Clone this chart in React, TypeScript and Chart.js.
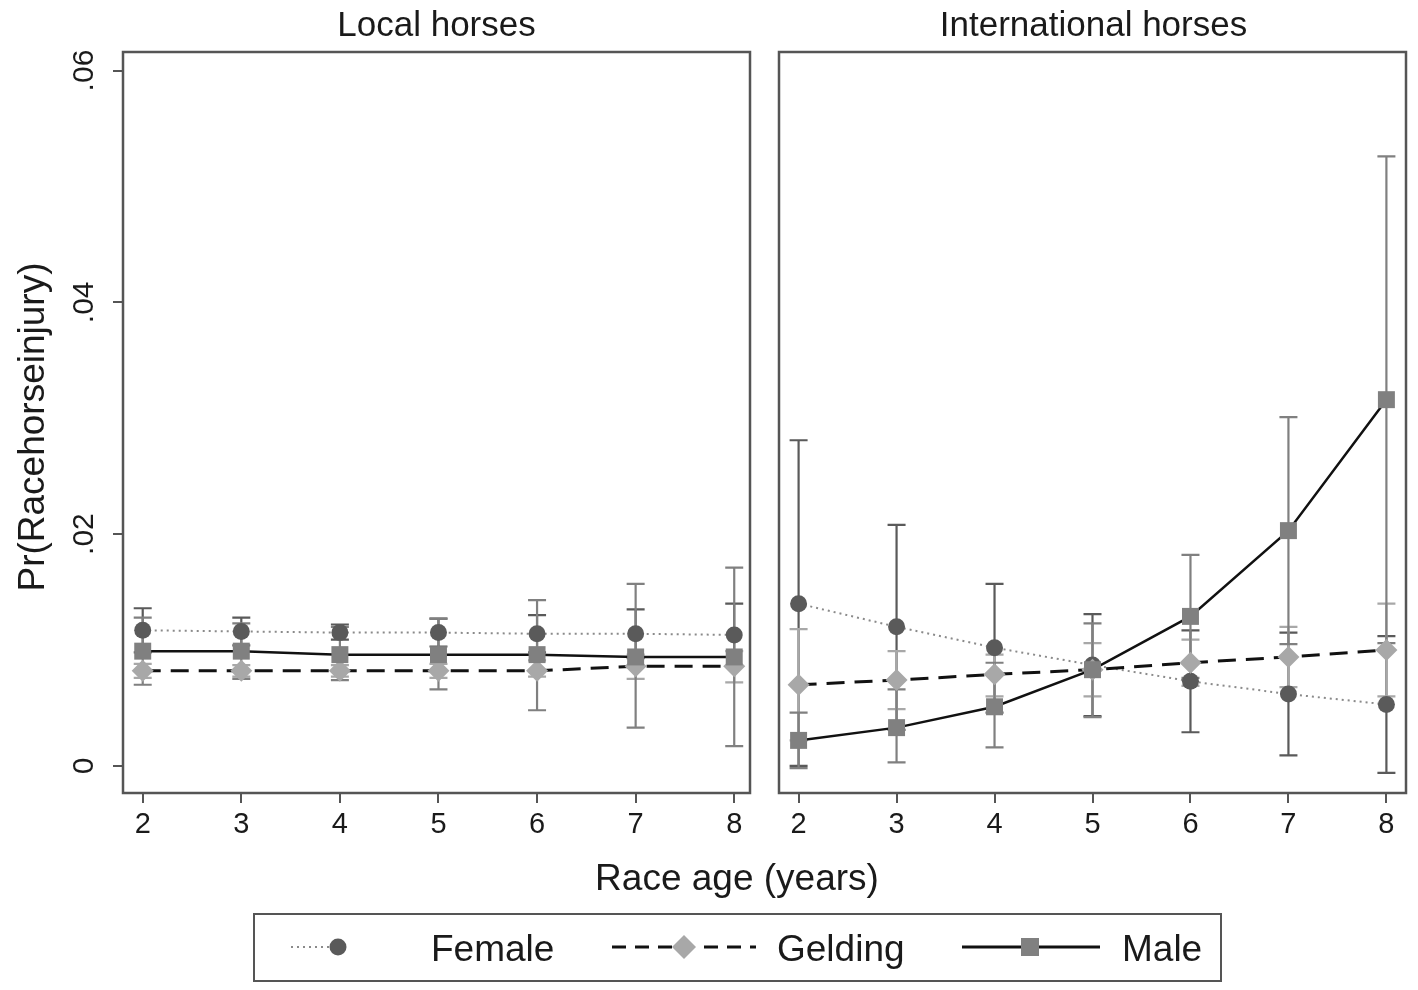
import React, { useEffect, useRef } from "react";
import { Chart, registerables } from "chart.js";
Chart.register(...registerables);

const ages = [2, 3, 4, 5, 6, 7, 8];
const yTickValues = [0, 0.02, 0.04, 0.06];
const yTickLabels = ["0", ".02", ".04", ".06"];

// Local horses
const localFemale = [0.0117, 0.0116, 0.0115, 0.0115, 0.0114, 0.0114, 0.0113];
const localFemaleLo = [0.0098, 0.0104, 0.0109, 0.0103, 0.0098, 0.0093, 0.0086];
const localFemaleHi = [0.0136, 0.0128, 0.0122, 0.0127, 0.013, 0.0135, 0.014];
const localGelding = [0.0082, 0.0082, 0.0082, 0.0082, 0.0082, 0.0086, 0.0086];
const localGeldingLo = [0.0076, 0.0077, 0.0077, 0.0076, 0.0077, 0.0075, 0.0072];
const localGeldingHi = [0.0088, 0.0087, 0.0087, 0.0088, 0.0091, 0.0096, 0.0099];
const localMale = [0.0099, 0.0099, 0.0096, 0.0096, 0.0096, 0.0094, 0.0094];
const localMaleLo = [0.007, 0.0075, 0.0074, 0.0066, 0.0048, 0.0033, 0.0017];
const localMaleHi = [0.0128, 0.0123, 0.012, 0.0127, 0.0143, 0.0157, 0.0171];

// International horses
const intlFemale = [0.014, 0.012, 0.0102, 0.0087, 0.0073, 0.0062, 0.0053];
const intlFemaleLo = [0.0, 0.0031, 0.0046, 0.0043, 0.0029, 0.0009, -0.0006];
const intlFemaleHi = [0.0281, 0.0208, 0.0157, 0.0131, 0.0117, 0.0115, 0.0112];
const intlGelding = [0.007, 0.0074, 0.0079, 0.0083, 0.0089, 0.0094, 0.01];
const intlGeldingLo = [0.0022, 0.0049, 0.006, 0.006, 0.0069, 0.0068, 0.006];
const intlGeldingHi = [0.0118, 0.0099, 0.0096, 0.0106, 0.0109, 0.012, 0.014];
const intlMale = [0.0022, 0.0033, 0.0051, 0.0083, 0.0129, 0.0203, 0.0316];
const intlMaleLo = [-0.0002, 0.0003, 0.0016, 0.0042, 0.0076, 0.0105, 0.0106];
const intlMaleHi = [0.0046, 0.0066, 0.0089, 0.0123, 0.0182, 0.0301, 0.0526];

const FONT = "'Liberation Sans', Arial, Helvetica, sans-serif";
const FEMALE_C = "#5a5a5a";
const GELDING_C = "#a8a8a8";
const MALE_C = "#808080";
const AXIS_C = "#555555";
const TEXT_C = "#1a1a1a";

function makeDatasets(
  f: number[], fLo: number[], fHi: number[],
  g: number[], gLo: number[], gHi: number[],
  m: number[], mLo: number[], mHi: number[]
) {
  return [
    {
      label: "Female",
      data: ages.map((x, i) => ({ x, y: f[i] })),
      lo: fLo, hi: fHi, ciColor: FEMALE_C,
      borderColor: "#8a8a8a", borderWidth: 2, borderDash: [2, 4],
      pointStyle: "circle", pointRadius: 8.5, pointBackgroundColor: FEMALE_C,
      pointBorderWidth: 0, pointBorderColor: FEMALE_C, fill: false, tension: 0, order: 3,
    },
    {
      label: "Gelding",
      data: ages.map((x, i) => ({ x, y: g[i] })),
      lo: gLo, hi: gHi, ciColor: GELDING_C,
      borderColor: "#111111", borderWidth: 3, borderDash: [18, 10],
      pointStyle: "rectRot", pointRadius: 11, pointBackgroundColor: GELDING_C,
      pointBorderWidth: 0, pointBorderColor: GELDING_C, fill: false, tension: 0, order: 2,
    },
    {
      label: "Male",
      data: ages.map((x, i) => ({ x, y: m[i] })),
      lo: mLo, hi: mHi, ciColor: MALE_C,
      borderColor: "#111111", borderWidth: 2.5, borderDash: [],
      pointStyle: "rect", pointRadius: 12, pointBackgroundColor: MALE_C,
      pointBorderWidth: 0, pointBorderColor: MALE_C, fill: false, tension: 0, order: 1,
    },
  ];
}

const errorBars = {
  id: "errorBars",
  beforeDatasetsDraw(chart: any) {
    const { ctx } = chart;
    const xs = chart.scales.x;
    const ys = chart.scales.y;
    ctx.save();
    chart.data.datasets.forEach((ds: any) => {
      ctx.strokeStyle = ds.ciColor;
      ctx.lineWidth = 2.2;
      ctx.setLineDash([]);
      ages.forEach((a, i) => {
        const px = xs.getPixelForValue(a);
        const y1 = ys.getPixelForValue(ds.lo[i]);
        const y2 = ys.getPixelForValue(ds.hi[i]);
        ctx.beginPath();
        ctx.moveTo(px, y1);
        ctx.lineTo(px, y2);
        ctx.moveTo(px - 9, y1);
        ctx.lineTo(px + 9, y1);
        ctx.moveTo(px - 9, y2);
        ctx.lineTo(px + 9, y2);
        ctx.stroke();
      });
    });
    ctx.restore();
  },
};

const boxPlugin = {
  id: "boxPlugin",
  afterDraw(chart: any) {
    const { ctx, chartArea: a } = chart;
    ctx.save();
    ctx.strokeStyle = AXIS_C;
    ctx.lineWidth = 2.5;
    ctx.setLineDash([]);
    ctx.strokeRect(a.left, a.top, a.right - a.left, a.bottom - a.top);
    ctx.restore();
  },
};

const yLabelPlugin = {
  id: "yLabelPlugin",
  afterDraw(chart: any) {
    const ys = chart.scales.y;
    const ctx = chart.ctx;
    ctx.save();
    ctx.fillStyle = TEXT_C;
    ctx.font = `30px ${FONT}`;
    ctx.textAlign = "center";
    ctx.textBaseline = "middle";
    ys.ticks.forEach((t: any) => {
      const py = ys.getPixelForValue(t.value);
      ctx.save();
      ctx.translate(85, py);
      ctx.rotate(-Math.PI / 2);
      ctx.fillText(String(t.label), 0, 0);
      ctx.restore();
    });
    ctx.restore();
  },
};

function makeConfig(datasets: any[], showY: boolean, xMax: number): any {
  return {
    type: "line",
    data: { datasets },
    plugins: showY ? [errorBars, boxPlugin, yLabelPlugin] : [errorBars, boxPlugin],
    options: {
      responsive: false,
      animation: false,
      events: [],
      layout: { padding: showY ? { top: 52, right: 12, left: 0, bottom: 0 } : { top: 52, right: 10, left: 9, bottom: 0 } },
      plugins: { legend: { display: false }, tooltip: { enabled: false }, title: { display: false } },
      scales: {
        x: {
          type: "linear",
          min: 1.8,
          max: xMax,
          afterBuildTicks: (s: any) => {
            s.ticks = ages.map((v) => ({ value: v }));
          },
          afterFit: (s: any) => {
            s.height = 67;
            s.paddingLeft = 0;
            s.paddingRight = 0;
          },
          ticks: {
            color: TEXT_C,
            font: { size: 29, family: FONT },
            padding: 5,
            maxRotation: 0,
            callback: (v: any) => String(v),
          },
          grid: { display: true, drawOnChartArea: false, drawTicks: true, tickLength: 10, color: AXIS_C, lineWidth: 2 },
          border: { display: false },
        },
        y: {
          type: "linear",
          display: showY,
          min: -0.00234,
          max: 0.0616,
          afterBuildTicks: (s: any) => {
            s.ticks = yTickValues.map((v) => ({ value: v }));
          },
          afterFit: (s: any) => {
            s.width = showY ? 123 : 0;
          },
          ticks: {
            color: "rgba(0,0,0,0)",
            font: { size: 28, family: FONT },
            callback: (v: any) => {
              const i = yTickValues.indexOf(v);
              return i >= 0 ? yTickLabels[i] : "";
            },
          },
          grid: { display: true, drawOnChartArea: false, drawTicks: true, tickLength: 10, color: AXIS_C, lineWidth: 2 },
          border: { display: false },
        },
      },
    },
  };
}

function Panel(props: { left: number; width: number; showY: boolean; xMax: number; datasets: any[] }) {
  const ref = useRef<HTMLCanvasElement | null>(null);
  useEffect(() => {
    if (!ref.current) return;
    const chart = new Chart(ref.current, makeConfig(props.datasets, props.showY, props.xMax));
    return () => chart.destroy();
  }, []);
  return (
    <canvas
      ref={ref}
      width={props.width}
      height={860}
      style={{ position: "absolute", left: props.left, top: 0, width: props.width, height: 860 }}
    />
  );
}

export default function App() {
  const localDs = makeDatasets(
    localFemale, localFemaleLo, localFemaleHi,
    localGelding, localGeldingLo, localGeldingHi,
    localMale, localMaleLo, localMaleHi
  );
  const intlDs = makeDatasets(
    intlFemale, intlFemaleLo, intlFemaleHi,
    intlGelding, intlGeldingLo, intlGeldingHi,
    intlMale, intlMaleLo, intlMaleHi
  );
  return (
    <div style={{ position: "fixed", left: 0, top: 0, width: 1418, height: 990, background: "#ffffff", overflow: "hidden" }}>
      <Panel left={0} width={762} showY={true} xMax={8.16} datasets={localDs} />
      <Panel left={767} width={651} showY={false} xMax={8.2} datasets={intlDs} />
      <svg width={1418} height={990} style={{ position: "absolute", left: 0, top: 0, pointerEvents: "none" }}>
        <g fontFamily={FONT} fill={TEXT_C}>
          <text x={436.5} y={36} fontSize={35} textAnchor="middle">Local horses</text>
          <text x={1093.5} y={36} fontSize={35} textAnchor="middle">International horses</text>
          <text x={737} y={890} fontSize={37} textAnchor="middle">Race age (years)</text>
          <text x={0} y={0} fontSize={37} textAnchor="middle" transform="translate(44,427) rotate(-90)">Pr(Racehorseinjury)</text>
        </g>
        <rect x={254} y={914} width={967} height={67} fill="none" stroke={AXIS_C} strokeWidth={2} />
        <line x1={291} y1={947} x2={330} y2={947} stroke="#8a8a8a" strokeWidth={2} strokeDasharray="2 4" />
        <circle cx={338} cy={947} r={8.5} fill={FEMALE_C} />
        <line x1={612} y1={947} x2={756} y2={947} stroke="#111" strokeWidth={3} strokeDasharray="14 9" />
        <rect x={672} y={935} width={24} height={24} fill="#ffffff" />
        <polygon points="684,935 696,947 684,959 672,947" fill={GELDING_C} />
        <line x1={962} y1={947} x2={1100} y2={947} stroke="#111" strokeWidth={3} />
        <rect x={1021} y={938} width={18} height={18} fill={MALE_C} />
        <g fontFamily={FONT} fill={TEXT_C} fontSize={37}>
          <text x={431} y={961}>Female</text>
          <text x={777} y={961}>Gelding</text>
          <text x={1122} y={961}>Male</text>
        </g>
      </svg>
    </div>
  );
}
